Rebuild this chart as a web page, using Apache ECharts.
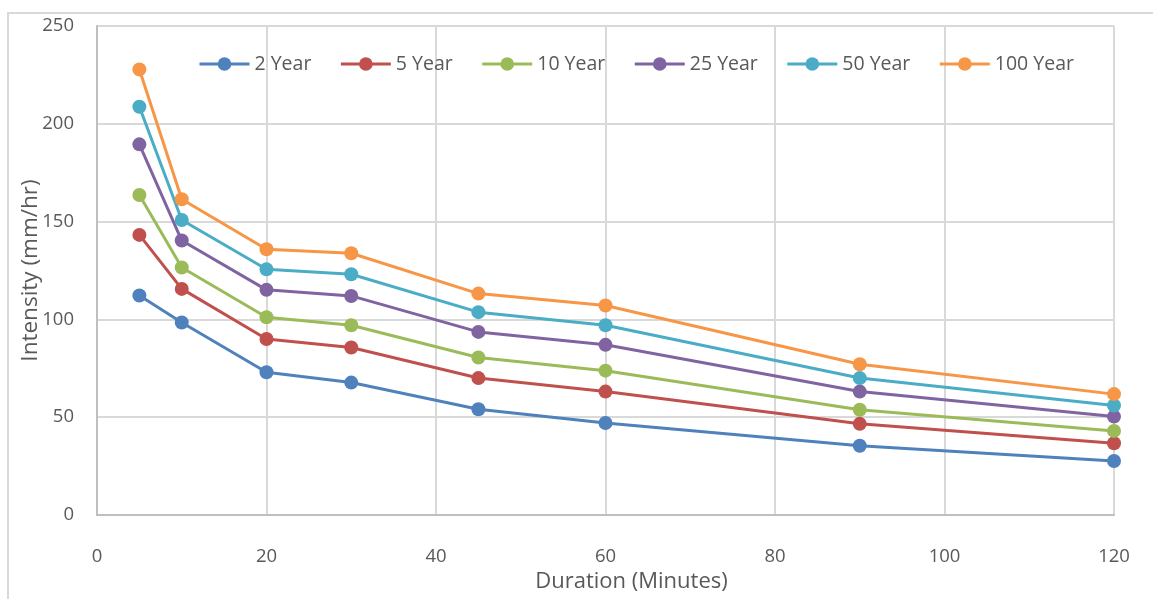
<!DOCTYPE html>
<html>
<head>
<meta charset="utf-8">
<script src="https://cdn.jsdelivr.net/npm/echarts@6/dist/echarts.min.js"></script>
<style>
  html, body { margin: 0; padding: 0; background: #fff; }
  #frame { position: absolute; left: 7px; top: 12px; width: 1160px; height: 600px; border: 2px solid #d9d9d9; box-sizing: border-box; }
  #chart { position: absolute; left: 0; top: 0; width: 1153px; height: 599px; }
</style>
</head>
<body>
<div id="frame"></div>
<div id="chart"></div>
<script>
// Rainfall intensity (mm/hr) by storm duration (minutes) for each return period
const durations = [5, 10, 20, 30, 45, 60, 90, 120];
const seriesNames = ['2 Year', '5 Year', '10 Year', '25 Year', '50 Year', '100 Year'];
const year2   = [112.2, 98.4, 73.0, 67.7, 54.1, 47.0, 35.4, 27.6];
const year5   = [143.2, 115.6, 90.0, 85.6, 70.0, 63.1, 46.6, 36.7];
const year10  = [163.6, 126.5, 101.1, 97.0, 80.5, 73.8, 53.8, 43.0];
const year25  = [189.5, 140.3, 115.1, 112.0, 93.6, 87.0, 63.1, 50.3];
const year50  = [208.7, 150.8, 125.6, 123.1, 103.7, 97.0, 70.0, 56.0];
const year100 = [227.8, 161.4, 135.9, 133.8, 113.2, 107.1, 77.1, 61.8];
const allValues = [year2, year5, year10, year25, year50, year100];
const colors = ['#4F81BD', '#C0504D', '#9BBB59', '#8064A2', '#4BACC6', '#F79646'];

const font = '"Open Sans", "Noto Sans", sans-serif';
const textColor = '#595959';

const chart = echarts.init(document.getElementById('chart'));
chart.setOption({
  animation: false,
  color: colors,
  textStyle: { fontFamily: font },
  grid: { left: 97, right: 39, top: 26, bottom: 84, containLabel: false },
  legend: {
    left: 193, top: 49,
    itemWidth: 50, itemHeight: 17, itemGap: 28,
    lineStyle: { width: 3 },
    textStyle: { color: textColor, fontSize: 19.5, fontFamily: font },
    data: seriesNames
  },
  xAxis: {
    type: 'value', min: 0, max: 120, interval: 20,
    name: 'Duration (Minutes)', nameLocation: 'middle', nameGap: 56,
    nameTextStyle: { color: textColor, fontSize: 22, fontFamily: font, padding: [0, 0, 0, 52] },
    axisLine: { show: true, lineStyle: { color: '#bfbfbf', width: 2 } },
    axisTick: { show: false },
    axisLabel: { color: textColor, fontSize: 18.5, margin: 32, fontFamily: font },
    splitLine: { show: true, lineStyle: { color: '#d9d9d9', width: 2 } }
  },
  yAxis: {
    type: 'value', min: 0, max: 250, interval: 50,
    name: 'Intensity (mm/hr)', nameLocation: 'middle', nameGap: 55, nameRotate: 90,
    nameMoveOverlap: false,
    nameTextStyle: { color: textColor, fontSize: 22.5, fontFamily: font },
    axisLine: { show: true, lineStyle: { color: '#bfbfbf', width: 2 } },
    axisTick: { show: false },
    axisLabel: { color: textColor, fontSize: 18.5, margin: 23, fontFamily: font },
    splitLine: { show: true, lineStyle: { color: '#d9d9d9', width: 2 } }
  },
  series: seriesNames.map((name, i) => ({
    name: name,
    type: 'line',
    data: durations.map((d, j) => [d, allValues[i][j]]),
    symbol: 'circle',
    symbolSize: 14,
    lineStyle: { width: 3, color: colors[i] },
    itemStyle: { color: colors[i] }
  }))
});
</script>
</body>
</html>
